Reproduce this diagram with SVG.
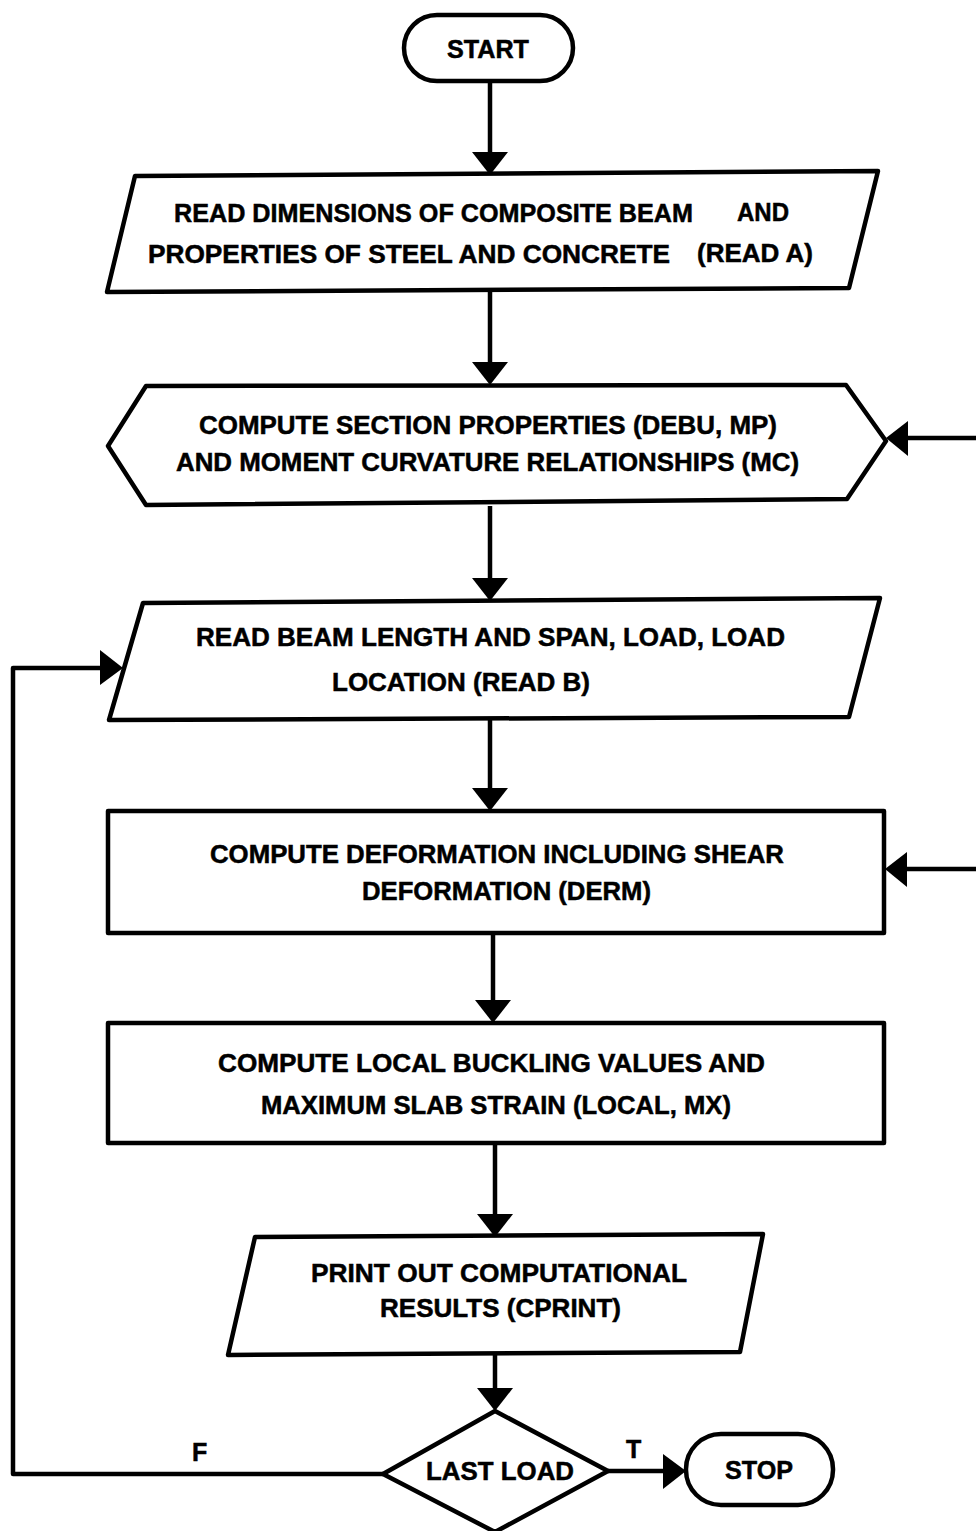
<svg xmlns="http://www.w3.org/2000/svg" width="976" height="1531" viewBox="0 0 976 1531">
<style>
.s{fill:#fff;stroke:#000;stroke-width:4.5;stroke-linejoin:round}
.c{fill:none;stroke:#000;stroke-width:4.5;stroke-linejoin:round}
.h{fill:#000;stroke:none}
text{font-family:"Liberation Sans",Arial,sans-serif;font-weight:bold;font-size:25px;fill:#000;stroke:#000;stroke-width:0.5}
</style>
<rect width="976" height="1531" fill="#fff"/>
<g id="connectors">
<path class="c" d="M490 81V155"/><polygon class="h" points="472,152 508,152 490,175"/>
<path class="c" d="M490 290V365"/><polygon class="h" points="472,362 508,362 490,385"/>
<path class="c" d="M490 506V580"/><polygon class="h" points="472,578 508,578 490,601"/>
<path class="c" d="M490 720V791"/><polygon class="h" points="472,788 508,788 490,811"/>
<path class="c" d="M493 933V1003"/><polygon class="h" points="475,1000 511,1000 493,1023"/>
<path class="c" d="M495 1143V1216"/><polygon class="h" points="477,1214 513,1214 495,1237"/>
<path class="c" d="M495 1353V1390"/><polygon class="h" points="477,1388 513,1388 495,1411"/>
<path class="c" d="M608 1471H666"/><polygon class="h" points="663,1454 663,1489 686,1471"/>
<path class="c" d="M383 1474H13V668H102"/><polygon class="h" points="100,650 100,685 123,668"/>
<path class="c" d="M976 438H905"/><polygon class="h" points="908,421 908,456 886,438"/>
<path class="c" d="M976 869H905"/><polygon class="h" points="907,852 907,887 885,869"/>
<text x="192" y="1461">F</text>
<text x="626" y="1458">T</text>
</g>
<g id="start">
<rect class="s" x="404" y="15" width="169" height="66" rx="33"/>
<text x="447" y="58" textLength="82" lengthAdjust="spacingAndGlyphs">START</text>
</g>
<g id="readA">
<polygon class="s" points="135,176 878,171 849,288 107,292"/>
<text x="174" y="222" textLength="519" lengthAdjust="spacingAndGlyphs">READ DIMENSIONS OF COMPOSITE BEAM</text>
<text x="737" y="221" textLength="52" lengthAdjust="spacingAndGlyphs">AND</text>
<text x="148" y="263" textLength="522" lengthAdjust="spacingAndGlyphs">PROPERTIES OF STEEL AND CONCRETE</text>
<text x="697" y="262" textLength="116" lengthAdjust="spacingAndGlyphs">(READ A)</text>
</g>
<g id="section">
<polygon class="s" points="108,446 146,386 846,385 886,441 847,499 146,505"/>
<text x="199" y="434" textLength="578" lengthAdjust="spacingAndGlyphs">COMPUTE SECTION PROPERTIES (DEBU, MP)</text>
<text x="176" y="471" textLength="623" lengthAdjust="spacingAndGlyphs">AND MOMENT CURVATURE RELATIONSHIPS (MC)</text>
</g>
<g id="readB">
<polygon class="s" points="143,603 880,598 849,717 109,720"/>
<text x="196" y="646" textLength="589" lengthAdjust="spacingAndGlyphs">READ BEAM LENGTH AND SPAN, LOAD, LOAD</text>
<text x="332" y="691" textLength="258" lengthAdjust="spacingAndGlyphs">LOCATION (READ B)</text>
</g>
<g id="derm">
<rect class="s" x="108" y="811" width="776" height="122"/>
<text x="210" y="863" textLength="574" lengthAdjust="spacingAndGlyphs">COMPUTE DEFORMATION INCLUDING SHEAR</text>
<text x="362" y="900" textLength="289" lengthAdjust="spacingAndGlyphs">DEFORMATION (DERM)</text>
</g>
<g id="local">
<rect class="s" x="108" y="1023" width="776" height="120"/>
<text x="218" y="1072" textLength="547" lengthAdjust="spacingAndGlyphs">COMPUTE LOCAL BUCKLING VALUES AND</text>
<text x="261" y="1114" textLength="470" lengthAdjust="spacingAndGlyphs">MAXIMUM SLAB STRAIN (LOCAL, MX)</text>
</g>
<g id="cprint">
<polygon class="s" points="255,1237 763,1234 740,1352 228,1355"/>
<text x="311" y="1282" textLength="376" lengthAdjust="spacingAndGlyphs">PRINT OUT COMPUTATIONAL</text>
<text x="380" y="1317" textLength="241" lengthAdjust="spacingAndGlyphs">RESULTS (CPRINT)</text>
</g>
<g id="lastload">
<polygon class="s" points="495,1411 608,1471 495,1532 383,1474"/>
<text x="426" y="1480" textLength="148" lengthAdjust="spacingAndGlyphs">LAST LOAD</text>
</g>
<g id="stop">
<rect class="s" x="686" y="1434" width="147" height="71" rx="35"/>
<text x="725" y="1479" textLength="68" lengthAdjust="spacingAndGlyphs">STOP</text>
</g>
</svg>
